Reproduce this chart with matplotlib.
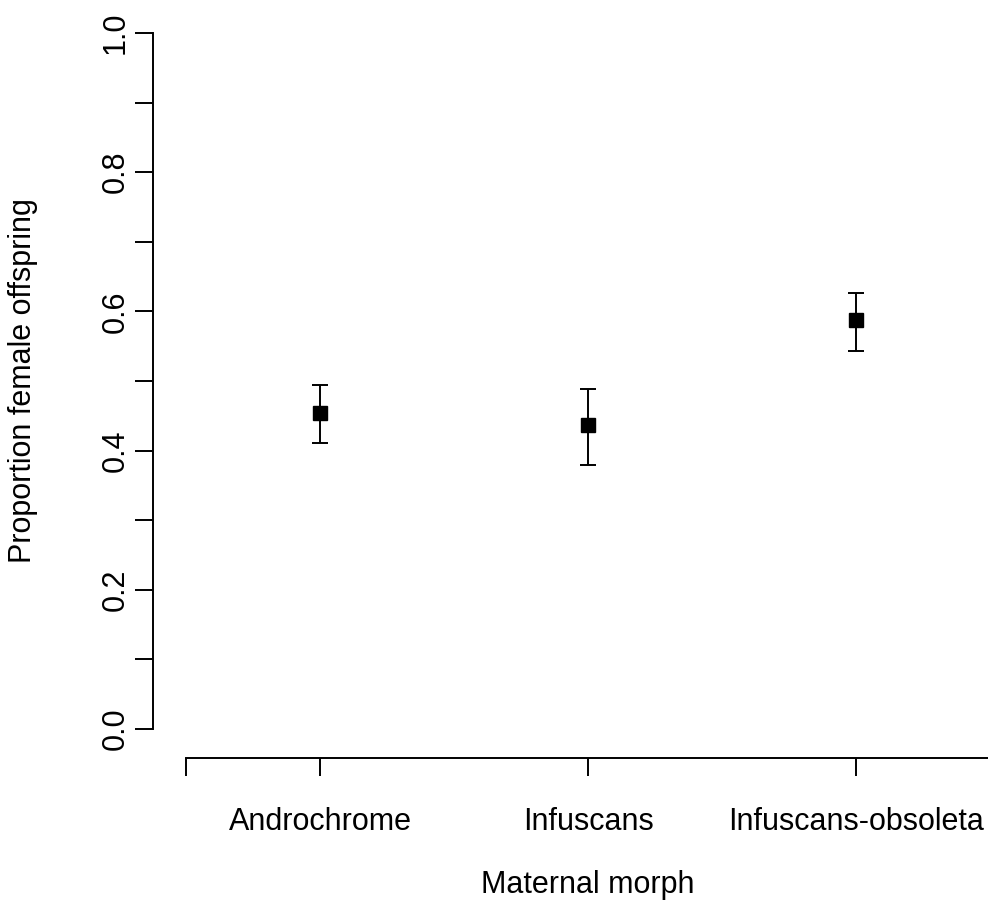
import numpy as np
import matplotlib
matplotlib.use('Agg')
import matplotlib.pyplot as plt

plt.rcParams['font.family'] = ['Liberation Sans', 'DejaVu Sans']

# Dados
morfos = ['Androchrome', 'Infuscans', 'Infuscans-obsoleta']
media = [0.454, 0.437, 0.587]
sup = [0.494, 0.488, 0.626]
inf = [0.411, 0.379, 0.543]

W, H = 988, 917
fig = plt.figure(figsize=(W / 100, H / 100), dpi=100)
ax = fig.add_axes([186 / W, (H - 729) / H, (990 - 186) / W, (729 - 33) / H])

x = np.arange(1, len(morfos) + 1)
media = np.array(media)
err = [media - np.array(inf), np.array(sup) - media]
ax.errorbar(x, media, yerr=err, fmt='s', color='black', markersize=10,
            elinewidth=1.4, capsize=6, capthick=1.4)

ax.set_xlim(0.5, 3.5)
ax.set_ylim(0, 1)

for s in ['top', 'right']:
    ax.spines[s].set_visible(False)
ax.spines['left'].set_position(('outward', 23.8))
ax.spines['bottom'].set_position(('outward', 20.9))
ax.spines['left'].set_linewidth(1.4)
ax.spines['bottom'].set_linewidth(1.4)

yt = np.round(np.arange(0, 1.01, 0.1), 1)
ax.set_yticks(yt)
ax.set_yticklabels(['%.1f' % v if round(v * 10) % 2 == 0 else '' for v in yt],
                   rotation=90, va='center')
ax.set_xticks([0.5] + list(x) + [3.5])
ax.set_xticklabels([''] + morfos + [''])
ax.tick_params(axis='both', length=13, width=1.4, labelsize=22)
ax.tick_params(axis='y', pad=3)
ax.tick_params(axis='x', pad=22)

fig.text(23 / W, 1 - 381 / H, 'Proportion female offspring', rotation=90,
         ha='center', va='center', fontsize=22)
fig.text(588 / W, 1 - 885 / H, 'Maternal morph', ha='center', va='center',
         fontsize=22)

fig.savefig('out.png', dpi=100)
